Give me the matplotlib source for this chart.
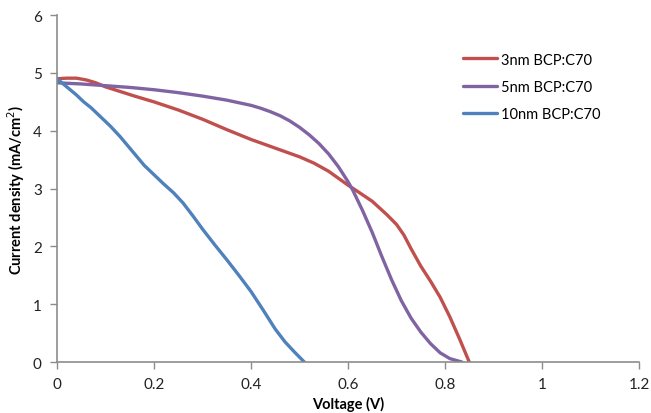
import matplotlib
matplotlib.use("Agg")
import matplotlib.pyplot as plt

# J-V curves
v_3nm = [0.0, 0.02, 0.04, 0.06, 0.08, 0.1, 0.13, 0.16, 0.2, 0.25, 0.3, 0.35, 0.4, 0.45,
         0.5, 0.53, 0.56, 0.6, 0.62, 0.65, 0.68, 0.7, 0.715, 0.73, 0.75, 0.77, 0.79, 0.81, 0.83, 0.85]
j_3nm = [4.9, 4.91, 4.91, 4.88, 4.83, 4.76, 4.68, 4.6, 4.5, 4.36, 4.2, 4.02, 3.85, 3.7,
         3.55, 3.44, 3.3, 3.06, 2.95, 2.78, 2.55, 2.38, 2.2, 1.96, 1.66, 1.4, 1.12, 0.78, 0.4, 0.0]

v_5nm = [0.0, 0.05, 0.1, 0.15, 0.2, 0.25, 0.3, 0.35, 0.4, 0.42, 0.44, 0.46, 0.48, 0.5, 0.52,
         0.54, 0.56, 0.58, 0.6, 0.61, 0.63, 0.65, 0.67, 0.69, 0.71, 0.73, 0.75, 0.77, 0.79, 0.81, 0.835]
j_5nm = [4.83, 4.81, 4.78, 4.75, 4.71, 4.66, 4.6, 4.53, 4.44, 4.39, 4.33, 4.26, 4.17, 4.06, 3.93,
         3.78, 3.6, 3.38, 3.12, 2.97, 2.62, 2.24, 1.82, 1.42, 1.06, 0.76, 0.52, 0.32, 0.16, 0.06, 0.0]

v_10nm = [0.0, 0.02, 0.04, 0.055, 0.07, 0.09, 0.11, 0.13, 0.15, 0.165, 0.18, 0.2, 0.22, 0.24, 0.26,
          0.28, 0.3, 0.325, 0.35, 0.375, 0.4, 0.425, 0.45, 0.47, 0.49, 0.51]
j_10nm = [4.9, 4.76, 4.62, 4.5, 4.4, 4.24, 4.08, 3.9, 3.7, 3.55, 3.4, 3.24, 3.08, 2.93, 2.75,
          2.53, 2.3, 2.03, 1.77, 1.5, 1.22, 0.9, 0.57, 0.35, 0.17, 0.0]

labels = ["3nm BCP:C70", "5nm BCP:C70", "10nm BCP:C70"]
colors = ["#C0504D", "#8064A2", "#4F81BD"]

plt.rcParams["font.family"] = ["Lato", "DejaVu Sans"]

fig = plt.figure(figsize=(6.51, 4.14), dpi=100)
ax = fig.add_axes([0.0876, 0.123, 0.894, 0.838])

for xs, ys, lab, c in zip([v_3nm, v_5nm, v_10nm], [j_3nm, j_5nm, j_10nm], labels, colors):
    ax.plot(xs, ys, color=c, lw=2.4, label=lab, solid_capstyle="round", solid_joinstyle="round")

ax.set_xlim(0, 1.2)
ax.set_ylim(0, 6)
ax.set_xticks([0, 0.2, 0.4, 0.6, 0.8, 1.0, 1.2])
ax.set_xticklabels(["0", "0.2", "0.4", "0.6", "0.8", "1", "1.2"])
ax.set_yticks(range(7))

for s in ["top", "right"]:
    ax.spines[s].set_visible(False)
for s in ["left", "bottom"]:
    ax.spines[s].set_color("#8c8c8c")
    ax.spines[s].set_linewidth(1.2)
ax.tick_params(colors="#8c8c8c", labelcolor="#222222", length=5, width=1, labelsize=11, pad=6)

ax.set_xlabel("Voltage (V)", fontsize=10.5, fontweight="bold", labelpad=3)
ax.set_ylabel("Current density (mA/cm$^2$)", fontsize=10.5, fontweight="bold", labelpad=4)

ax.legend(loc="upper left", bbox_to_anchor=(0.675, 0.93), frameon=False, fontsize=10.5,
          handlelength=2.3, handletextpad=0.3, labelspacing=0.9)

fig.savefig("out.png", dpi=100)
